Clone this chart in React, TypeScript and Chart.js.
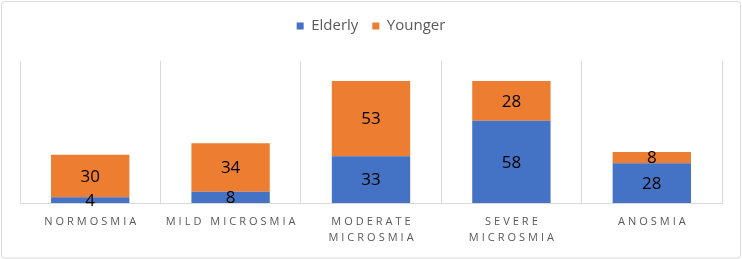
import React, { useEffect, useRef } from "react";
import Chart from "chart.js/auto";

// Olfactory categories (each entry is one or two label lines under the axis)
const categoryLines: string[][] = [
  ["NORMOSMIA"],
  ["MILD MICROSMIA"],
  ["MODERATE", "MICROSMIA"],
  ["SEVERE", "MICROSMIA"],
  ["ANOSMIA"],
];

const elderly: number[] = [4, 8, 33, 58, 28];
const younger: number[] = [30, 34, 53, 28, 8];

const seriesNames = ["Elderly", "Younger"];
const seriesColors = ["#4472C4", "#ED7D31"];

const FONT = "'Open Sans', 'Liberation Sans', sans-serif";
const GRID = "#D9D9D9";

// Centred value inside every stacked segment
const segmentLabels = {
  id: "segmentLabels",
  afterDatasetsDraw(chart: any) {
    const ctx = chart.ctx;
    ctx.save();
    ctx.font = `17px ${FONT}`;
    ctx.fillStyle = "#000000";
    ctx.textAlign = "center";
    ctx.textBaseline = "middle";
    chart.data.datasets.forEach((ds: any, di: number) => {
      const meta = chart.getDatasetMeta(di);
      meta.data.forEach((bar: any, i: number) => {
        const { x, y, base } = bar.getProps(["x", "y", "base"], true);
        ctx.fillText(String(ds.data[i]), x, (y + base) / 2 + 1);
      });
    });
    ctx.restore();
  },
};

function drawSpaced(ctx: CanvasRenderingContext2D, text: string, cx: number, cy: number, spacing: number) {
  const widths = Array.from(text).map((c) => ctx.measureText(c).width);
  const total = widths.reduce((a, b) => a + b, 0) + spacing * (widths.length - 1);
  let x = cx - total / 2;
  Array.from(text).forEach((c, i) => {
    ctx.fillText(c, x, cy);
    x += widths[i] + spacing;
  });
}

// Letter-spaced category labels under the axis
const categoryAxisLabels = {
  id: "categoryAxisLabels",
  afterDraw(chart: any) {
    const ctx = chart.ctx;
    const xScale = chart.scales.x;
    const bottom = chart.chartArea.bottom;
    ctx.save();
    ctx.font = `11px ${FONT}`;
    ctx.fillStyle = "#595959";
    ctx.textAlign = "left";
    ctx.textBaseline = "middle";
    categoryLines.forEach((lines, i) => {
      const cx = xScale.getPixelForValue(i);
      lines.forEach((line, li) => {
        drawSpaced(ctx, line, cx, bottom + 19 + li * 16, 3);
      });
    });
    ctx.restore();
  },
};

// Light rounded frame around the whole chart
const chartFrame = {
  id: "chartFrame",
  beforeDraw(chart: any) {
    const ctx = chart.ctx;
    ctx.save();
    ctx.fillStyle = "#FFFFFF";
    ctx.fillRect(0, 0, chart.width, chart.height);
    ctx.strokeStyle = GRID;
    ctx.lineWidth = 1;
    ctx.beginPath();
    (ctx as any).roundRect(1.5, 1.5, chart.width - 3, chart.height - 2.5, 3);
    ctx.stroke();
    ctx.restore();
  },
};

export default function App() {
  const canvasRef = useRef<HTMLCanvasElement | null>(null);

  useEffect(() => {
    document.body.style.margin = "0";
    const canvas = canvasRef.current;
    if (!canvas) return;
    const chart = new Chart(canvas, {
      type: "bar",
      data: {
        labels: categoryLines.map((l) => l.join(" ")),
        datasets: [
          {
            label: seriesNames[0],
            data: elderly,
            backgroundColor: seriesColors[0],
            categoryPercentage: 1,
            barPercentage: 0.558,
          },
          {
            label: seriesNames[1],
            data: younger,
            backgroundColor: seriesColors[1],
            categoryPercentage: 1,
            barPercentage: 0.558,
          },
        ],
      },
      options: {
        responsive: false,
        animation: false,
        devicePixelRatio: 1,
        layout: { padding: { top: 4.5, left: 20, right: 20, bottom: 56 } },
        plugins: {
          tooltip: { enabled: false },
          legend: {
            position: "top",
            labels: {
              boxWidth: 7,
              boxHeight: 7,
              padding: 14,
              color: "#595959",
              font: { family: FONT, size: 15 },
            },
          },
          subtitle: {
            display: true,
            text: "",
            weight: 500,
            font: { size: 1, lineHeight: 1 },
            padding: { top: 0, bottom: 16.5 },
          } as any,
        },
        scales: {
          x: {
            stacked: true,
            grid: { display: true, color: GRID, drawTicks: false, offset: true },
            border: { display: true, color: GRID },
            ticks: { display: false },
          },
          y: {
            stacked: true,
            display: false,
            min: 0,
            max: 100,
          },
        },
      },
      plugins: [chartFrame, segmentLabels, categoryAxisLabels],
    });
    return () => chart.destroy();
  }, []);

  return (
    <div style={{ width: 742, height: 259 }}>
      <canvas ref={canvasRef} width={742} height={259} style={{ display: "block" }} />
    </div>
  );
}
